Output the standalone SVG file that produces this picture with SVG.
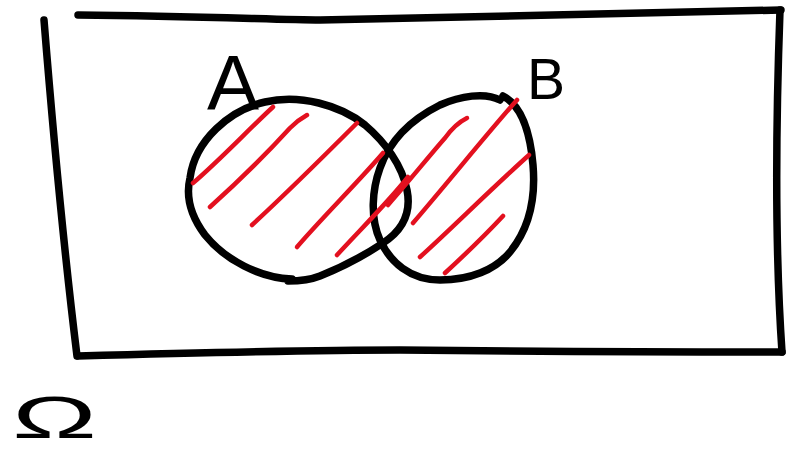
<svg xmlns="http://www.w3.org/2000/svg" width="787" height="454" viewBox="0 0 787 454">
<style>
.ink{fill:none;stroke:#000;stroke-width:7.5;stroke-linecap:round;stroke-linejoin:round}
.hatch{fill:none;stroke:#e3101f;stroke-width:4.5;stroke-linecap:round}
.lbl{font-family:"Liberation Sans","DejaVu Sans",sans-serif;fill:#000}
</style>
<rect width="787" height="454" fill="#fff"/>
<g id="frame" class="ink">
<path d="M78,15 C200,16 280,20 320,20 C500,17 650,12 781,10"/>
<path d="M780,10 C776,120 775,250 782,352"/>
<path d="M78,356 Q300,350 400,350 Q600,352 782,352"/>
<path d="M44,20 C52,120 64,250 77,356"/>
</g>
<g id="setA" class="ink">
<path d="M288,281 C300,281 310,280 320,276 C340,268 365,255 383,243 C400,232 412,215 407,190 C402,165 385,142 365,125 C340,105 300,94 265,102 C230,110 195,140 190,178 C186,195 190,215 205,235 C225,260 260,278 292,279"/>
</g>
<g id="setB" class="ink">
<path d="M503,96 C520,105 530,130 533,165 C536,200 528,230 510,252 C495,270 470,280 440,280 C410,280 390,262 380,240 C370,218 372,190 380,168 C390,140 410,120 440,105 C460,96 485,92 500,100"/>
</g>
<g id="hatching" class="hatch">
<path d="M193,183 C220,160 250,128 273,107"/>
<path d="M210,207 C240,180 270,150 290,128 Q298,120 307,115"/>
<path d="M252,225 C290,190 330,150 357,123"/>
<path d="M297,247 C320,220 360,180 383,153"/>
<path d="M337,255 C360,230 390,200 408,177"/>
<path d="M388,205 C410,180 430,155 445,138 Q455,124 467,118"/>
<path d="M413,223 C450,180 490,130 517,100"/>
<path d="M420,257 C450,230 490,190 529,155"/>
<path d="M445,273 C470,250 490,230 503,216"/>
</g>
<g id="labels" class="lbl">
<text x="207" y="110" font-size="78">A</text>
<text x="527" y="99" font-size="57">B</text>
<text x="12" y="438" font-size="60" textLength="85" lengthAdjust="spacingAndGlyphs">Ω</text>
</g>
</svg>
